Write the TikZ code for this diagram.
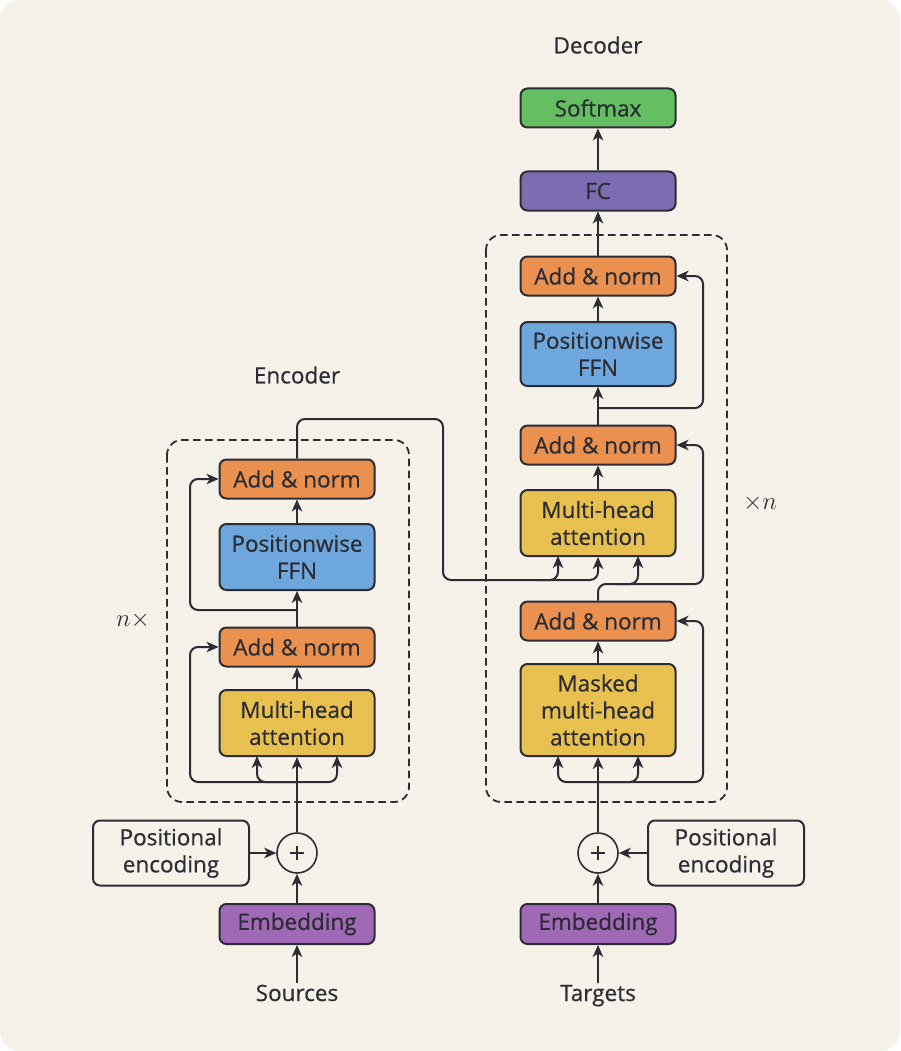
\documentclass[tikz,border=0pt]{standalone}
\usepackage{fontspec}
\setmainfont{Open Sans}[FakeBold=0.6]
\usetikzlibrary{arrows.meta,calc}
\definecolor{ink}{HTML}{2C2C34}
\definecolor{paper}{HTML}{F6F2EA}
\definecolor{addnorm}{HTML}{EB9150}
\definecolor{ffn}{HTML}{6DA7DC}
\definecolor{attn}{HTML}{E8C04F}
\definecolor{embed}{HTML}{A069B5}
\definecolor{fc}{HTML}{7B6DB0}
\definecolor{soft}{HTML}{66BE62}
\tikzset{
  blk/.style={draw=ink, line width=2pt, rounded corners=7pt, minimum width=155pt,
    minimum height=39pt, align=center, text=ink, inner sep=2pt,
    font=\fontsize{22.5}{27}\selectfont},
  tall/.style={blk, minimum height=66pt},
  plus/.style={draw=ink, line width=1.6pt, circle, minimum size=40pt, inner sep=0pt,
    fill=paper},
  lbl/.style={text=ink, font=\fontsize{22.5}{27}\selectfont},
  io/.style={lbl, text height=16pt, text depth=5pt, inner sep=2pt},
  arr/.style={draw=ink, line width=2pt, -{Stealth[length=12pt,width=10.5pt,inset=3.5pt]}},
  frame/.style={draw=ink, line width=1.8pt, dash pattern=on 7.5pt off 4.5pt, rounded corners=15pt},
}
\begin{document}
\begin{tikzpicture}[x=1pt,y=-1pt]
% page
\fill[white] (0,0) rectangle (900,1051);
\fill[paper, rounded corners=20pt] (0,0) rectangle (900,1051);
\useasboundingbox (0,0) rectangle (900,1051);

% ---------------- encoder ----------------
\draw[frame] (167,440) rectangle (409,802);
\node[lbl] (enclabel) at (297,375) {Encoder};
\node[lbl, font=\fontsize{24}{26}\selectfont] (encrep) at (133,620) {$n\times$};

\node[blk, fill=addnorm] (eadd2) at (297,479) {Add \& norm};
\node[tall, fill=ffn] (effn) at (297,557) {Positionwise\\FFN};
\node[blk, fill=addnorm] (eadd1) at (297,647) {Add \& norm};
\node[tall, fill=attn] (emha) at (297,723) {Multi-head\\attention};
\node[plus] (eplus) at (297,853) {};
\node[blk, fill=paper, minimum width=156pt, minimum height=65pt] (epos) at (171,853) {Positional\\encoding};
\node[blk, fill=embed, minimum height=40pt] (eemb) at (297,924) {Embedding};
\node[io, anchor=base] (esrc) at (297,1001) {Sources};

\coordinate (eb1) at (297,782);
\coordinate (el1) at (190,782);
\coordinate (eb2) at (297,610);
\coordinate (el2) at (190,610);
\coordinate (eq) at (257,756);
\coordinate (ek) at (337,756);

\draw[arr] (esrc) -- (eemb);
\draw[arr] (eemb) -- (eplus);
\draw[arr] (epos) -- (eplus);
\draw[arr] (eplus) -- (emha);
\draw[arr, rounded corners=8pt] (eb1) -| (eq);
\draw[arr, rounded corners=8pt] (eb1) -| (ek);
\draw[arr, rounded corners=8pt] (eb1) -- (el1) |- (eadd1.west);
\draw[arr] (emha) -- (eadd1);
\draw[arr] (eadd1) -- (effn);
\draw[arr, rounded corners=8pt] (eb2) -- (el2) |- (eadd2.west);
\draw[arr] (effn) -- (eadd2);
% plus sign
\draw[ink, line width=1.2pt] ($(eplus)+(-7,0)$) -- ($(eplus)+(7,0)$)
  ($(eplus)+(0,-7)$) -- ($(eplus)+(0,7)$);

% ---------------- decoder ----------------
\draw[frame] (486,235) rectangle (727,802);
\node[lbl] (declabel) at (598,45) {Decoder};
\node[lbl, font=\fontsize{24}{26}\selectfont] (decrep) at (760,503) {$\times n$};

\node[blk, fill=soft] (dsoft) at (598,108) {Softmax};
\node[blk, fill=fc] (dfc) at (598,191) {FC};
\node[blk, fill=addnorm] (dadd3) at (598,276) {Add \& norm};
\node[tall, fill=ffn, minimum height=64pt] (dffn) at (598,354) {Positionwise\\FFN};
\node[blk, fill=addnorm] (dadd2) at (598,445) {Add \& norm};
\node[tall, fill=attn] (dmha) at (598,523) {Multi-head\\attention};
\node[blk, fill=addnorm] (dadd1) at (598,621) {Add \& norm};
\node[blk, fill=attn, minimum height=92pt] (dmmha) at (598,710) {Masked\\multi-head\\attention};
\node[plus] (dplus) at (598,853) {};
\node[blk, fill=paper, minimum width=156pt, minimum height=65pt] (dpos) at (726,853) {Positional\\encoding};
\node[blk, fill=embed, minimum height=40pt] (demb) at (598,924) {Embedding};
\node[io, anchor=base] (dtgt) at (598,1001) {Targets};

\coordinate (db1) at (598,782);
\coordinate (dr1) at (703,782);
\coordinate (db2) at (598,584);
\coordinate (dr2) at (703,584);
\coordinate (db3) at (598,408);
\coordinate (dr3) at (703,408);
\coordinate (mq) at (558,756);
\coordinate (mk) at (638,756);
\coordinate (cq) at (638,556);
\coordinate (ck) at (558,556);
\coordinate (cbr) at (536,580);
\coordinate (cqs) at (616,584);

\draw[arr] (dtgt) -- (demb);
\draw[arr] (demb) -- (dplus);
\draw[arr] (dpos) -- (dplus);
\draw[arr] (dplus) -- (dmmha);
\draw[arr, rounded corners=8pt] (db1) -| (mq);
\draw[arr, rounded corners=8pt] (db1) -| (mk);
\draw[arr, rounded corners=8pt] (db1) -- (dr1) |- (dadd1.east);
\draw[arr] (dmmha) -- (dadd1);
\draw[arr, rounded corners=8pt] (dadd1.north) -- (db2) -- (dr2) |- (dadd2.east);
\draw[arr, rounded corners=8pt] (cqs) -| (cq);
\draw[arr] (dmha) -- (dadd2);
\draw[arr] (dadd2) -- (dffn);
\draw[arr, rounded corners=8pt] (db3) -- (dr3) |- (dadd3.east);
\draw[arr] (dffn) -- (dadd3);
\draw[arr] (dadd3) -- (dfc);
\draw[arr] (dfc) -- (dsoft);
\draw[ink, line width=1.2pt] ($(dplus)+(-7,0)$) -- ($(dplus)+(7,0)$)
  ($(dplus)+(0,-7)$) -- ($(dplus)+(0,7)$);

% encoder output into the cross attention
\coordinate (eo1) at (297,419);
\coordinate (eo2) at (443,419);
\coordinate (eo3) at (443,580);
\coordinate (eo4) at (598,580);
\draw[arr, rounded corners=8pt] (eadd2.north) -- (eo1) -- (eo2) -- (eo3) -- (eo4) -- (dmha.south);
\draw[arr, rounded corners=8pt] (cbr) -| (ck);
\end{tikzpicture}
\end{document}
